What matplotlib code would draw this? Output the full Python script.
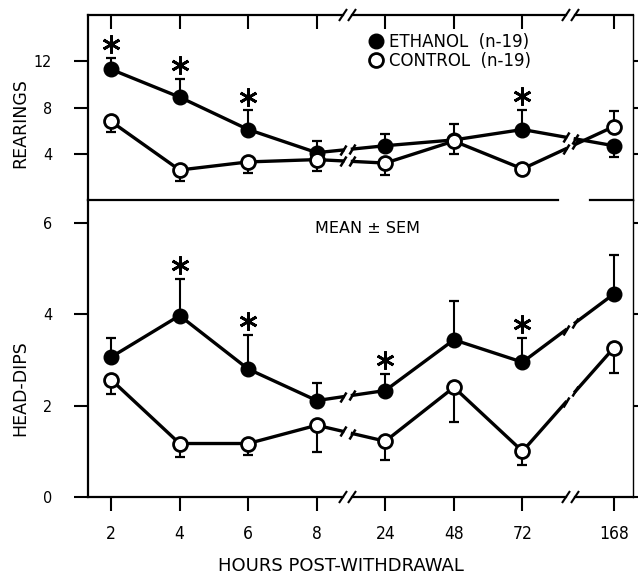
import matplotlib.pyplot as plt
import matplotlib.transforms as mtransforms
from matplotlib.markers import MarkerStyle
import numpy as np

# --- data ---
hours = ['2', '4', '6', '8', '24', '48', '72', '168']

rear_eth = [11.3, 8.9, 6.1, 4.1, 4.7, 5.2, 6.1, 4.7]
rear_eth_up = [1.0, 1.55, 1.65, 1.05, 1.0, 1.4, 1.7, 0.0]
rear_eth_lo = [0, 0, 0, 0, 0, 0, 0, 0.95]
rear_ctl = [6.8, 2.6, 3.3, 3.5, 3.2, 5.1, 2.7, 6.35]
rear_ctl_up = [0, 0, 0, 0, 0, 0, 0, 1.35]
rear_ctl_lo = [0.95, 0.95, 0.95, 0.95, 1.0, 1.1, 0.45, 0]

dips_eth = [3.06, 3.97, 2.80, 2.11, 2.33, 3.44, 2.95, 4.44]
dips_eth_up = [0.43, 0.81, 0.75, 0.39, 0.36, 0.85, 0.54, 0.86]
dips_ctl = [2.57, 1.17, 1.17, 1.57, 1.22, 2.40, 1.0, 3.26]
dips_ctl_lo = [0.31, 0.30, 0.26, 0.59, 0.42, 0.76, 0.31, 0.55]

rear_sig = [0, 1, 2, 6]
dips_sig = [1, 2, 4, 6]

# layout of the broken x axis
x_pos = np.array([0, 1, 2, 3, 4, 5, 6, 7.33])
breaks = [3.45, 6.7]
gap = 0.07

fig = plt.figure(figsize=(6.38, 5.75), dpi=100)
ax1 = fig.add_axes([0.138, 0.652, 0.854, 0.322])
ax2 = fig.add_axes([0.138, 0.1357, 0.854, 0.5165])

lw = 2.4
slash = MarkerStyle('|', transform=mtransforms.Affine2D().rotate_deg(-35))


def broken_line(ax, y):
    y = np.asarray(y)
    for seg in (slice(0, 4), slice(4, 7)):
        ax.plot(x_pos[seg], y[seg], color='k', lw=lw, zorder=2)
    for i, b in ((3, breaks[0]), (6, breaks[1])):
        x0, x1 = x_pos[i], x_pos[i + 1]
        y0, y1 = y[i], y[i + 1]
        for xa, xb in ((x0, b - gap), (b + gap, x1)):
            ya = np.interp(xa, [x0, x1], [y0, y1])
            yb = np.interp(xb, [x0, x1], [y0, y1])
            ax.plot([xa, xb], [ya, yb], color='k', lw=lw, zorder=2)
        xe = [b - gap, b + gap]
        ax.plot(xe, np.interp(xe, [x0, x1], [y0, y1]), ls='none',
                marker=slash, ms=8, mew=1.8, color='k', zorder=2)


def panel(ax, eth, eth_err, ctl, ctl_err, sig, eth_top):
    broken_line(ax, eth)
    broken_line(ax, ctl)
    ax.errorbar(x_pos, eth, yerr=eth_err, fmt='none', ecolor='k',
                elinewidth=1.5, capsize=3.5, capthick=1.6, zorder=1)
    ax.errorbar(x_pos, ctl, yerr=ctl_err, fmt='none', ecolor='k',
                elinewidth=1.5, capsize=3.5, capthick=1.6, zorder=1)
    he, = ax.plot(x_pos, eth, ls='none', marker='o', ms=10.5,
                  mfc='k', mec='k', zorder=3)
    hc, = ax.plot(x_pos, ctl, ls='none', marker='o', ms=10,
                  mfc='white', mec='k', mew=2, zorder=3)
    off = mtransforms.offset_copy(ax.transData, fig=fig, y=10, units='points')
    ax.plot(x_pos[sig], np.asarray(eth_top)[sig], ls='none',
            marker=(6, 2, 0), ms=13, mew=2, color='k', transform=off,
            clip_on=False)
    ax.set_xlim(-0.335, 7.61)
    return he, hc


def spine_with_breaks(ax, yax):
    tr = mtransforms.blended_transform_factory(ax.transData, ax.transAxes)
    xl = ax.get_xlim()
    edges = [xl[0], breaks[0] - gap, breaks[0] + gap,
             breaks[1] - gap, breaks[1] + gap, xl[1]]
    for a, b in zip(edges[::2], edges[1::2]):
        ax.plot([a, b], [yax, yax], color='k', lw=1.6, transform=tr,
                clip_on=False, zorder=4)
    for b in breaks:
        ax.plot([b - gap, b + gap], [yax, yax], ls='none', marker=slash,
                ms=10, mew=1.5, color='k', transform=tr, clip_on=False)


eth_top1 = np.add(rear_eth, rear_eth_up)
h_eth, h_ctl = panel(ax1, rear_eth, [rear_eth_lo, rear_eth_up],
                     rear_ctl, [rear_ctl_lo, rear_ctl_up], rear_sig, eth_top1)
eth_top2 = np.add(dips_eth, dips_eth_up)
panel(ax2, dips_eth, [np.zeros(8), dips_eth_up],
      dips_ctl, [dips_ctl_lo, np.zeros(8)], dips_sig, eth_top2)

ax1.set_ylim(0, 16)
ax1.set_yticks([4, 8, 12])
ax2.set_ylim(0, 6.5)
ax2.set_yticks([0, 2, 4, 6])

for ax in (ax1, ax2):
    ax.set_xticks(x_pos)
    ax.spines['top'].set_visible(False)
    ax.spines['bottom'].set_visible(False)
    ax.spines['left'].set_linewidth(1.6)
    ax.spines['right'].set_linewidth(1.0)
    ax.tick_params(axis='y', which='both', direction='out', length=10,
                   width=1.5, left=True, right=True, labelright=False,
                   pad=16, labelsize=11.5, labelfontfamily='DejaVu Sans')
    for t in ax.get_yticklabels():
        t.set_fontstretch('condensed')

ax1.tick_params(axis='x', direction='in', length=10, width=1.5,
                top=True, bottom=False, labeltop=False, labelbottom=False)
ax2.tick_params(axis='x', direction='out', length=10, width=1.5,
                top=False, bottom=True, pad=10, labelsize=12.5)
ax2.set_xticklabels(hours)
for t in ax2.get_xticklabels():
    t.set_fontstretch('condensed')

spine_with_breaks(ax1, 1.0)
spine_with_breaks(ax2, 0.0)

# divider between the panels, with the small gap on the right
ax2.axhline(6.5, xmin=0, xmax=(558 - 88) / 545, color='k', lw=1.6,
            clip_on=False)
ax2.axhline(6.5, xmin=(590 - 88) / 545, xmax=1, color='k', lw=1.6,
            clip_on=False)

ax1.legend([h_eth, h_ctl], ['ETHANOL  (n-19)', 'CONTROL  (n-19)'],
           loc='upper left', bbox_to_anchor=(0.517, 0.905), frameon=False,
           fontsize=12, handlelength=0.8, handletextpad=0.35,
           labelspacing=0.1, borderpad=0, borderaxespad=0)

ax2.text(0.513, 0.905, 'MEAN \u00b1 SEM', transform=ax2.transAxes,
         ha='center', va='center', fontsize=11.5)

fig.text(0.031, 1 - 123 / 575, 'REARINGS', rotation=90, ha='center',
         va='center', fontsize=12.5)
fig.text(0.031, 1 - 388 / 575, 'HEAD-DIPS', rotation=90, ha='center',
         va='center', fontsize=12.5)
fig.text(341 / 638, 1 - 566 / 575, 'HOURS POST-WITHDRAWAL', ha='center',
         va='center', fontsize=13)

fig.savefig('out.png', dpi=100)
